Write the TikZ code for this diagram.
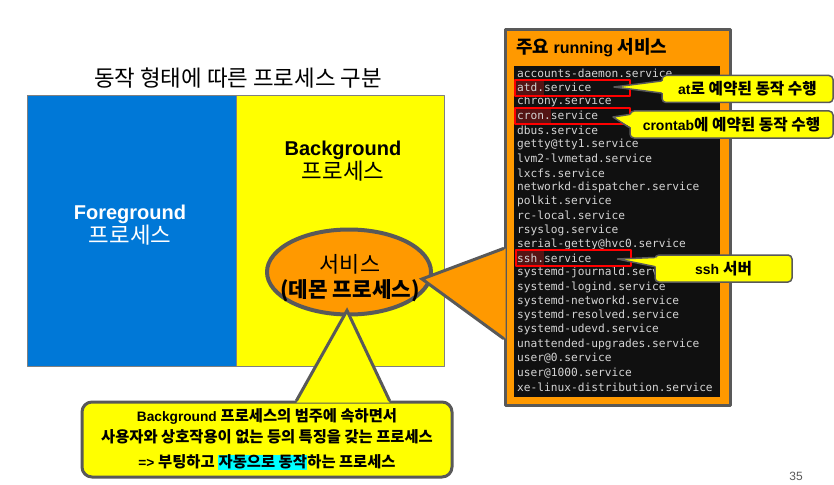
\documentclass[tikz,border=0pt]{standalone}
\usepackage{fontspec}
\setmainfont{Liberation Sans}
\newfontfamily\kr[Scale=1.12]{Noto Sans CJK KR}
\newfontfamily\term{DejaVu Sans Mono}
\usetikzlibrary{calc,positioning,shapes.geometric}

\definecolor{fgblue}{RGB}{0,120,215}
\definecolor{bgyellow}{RGB}{255,255,0}
\definecolor{panelorange}{RGB}{255,153,0}
\definecolor{edgegray}{RGB}{89,89,89}
\definecolor{termgray}{RGB}{212,212,212}
\definecolor{termblack}{RGB}{16,16,16}
\definecolor{selred}{RGB}{84,20,20}
\definecolor{marker}{RGB}{0,255,255}

\tikzset{
  termline/.style={anchor=west,inner sep=0pt,text=termgray,font=\term\fontsize{11.2}{13}\selectfont},
  selbox/.style={draw=red,line width=2pt,minimum width=115pt,minimum height=16pt,inner sep=0pt},
  selmark/.style={fill=selred},
  note/.style={fill=bgyellow,draw=edgegray,line width=1.5pt,rounded corners=4pt,inner sep=0pt,
    minimum height=27pt,font=\bfseries\fontsize{14}{17}\selectfont},
  noteedge/.style={draw=edgegray,line width=1.5pt,line join=round},
  bigedge/.style={draw=edgegray,line width=3pt,line join=miter},
}

\begin{document}
\begin{tikzpicture}[x=1pt,y=-1pt,line cap=round,line join=round]
  % white page
  \fill[white] (0,0) rectangle (834,484);
  \useasboundingbox (0,0) rectangle (834,484);

  % title
  \node (title) at (238,78) {\kr\fontsize{20}{24}\selectfont 동작 형태에 따른 프로세스 구분};

  % foreground / background areas
  \draw[draw=gray,fill=fgblue] (27,95) rectangle (236,366);
  \draw[draw=gray,fill=bgyellow] (236,95) rectangle (444,366);
  \node[align=center,text=white,font=\fontsize{20}{24}\selectfont] (fg) at (130,225)
    {\bfseries Foreground\\\kr 프로세스};
  \node[align=center,font=\fontsize{20}{24}\selectfont] (bg) at (343,161)
    {\bfseries Background\\\kr 프로세스};

  % service ellipse
  \node[ellipse,draw=edgegray,line width=4pt,fill=panelorange,minimum width=164pt,
    minimum height=85pt,inner sep=0pt] (daemon) at (349,272) {};
  \node[font=\kr\fontsize{19.5}{24}\selectfont] (svcname) at (350,264) {서비스};
  \node[font=\kr\bfseries\fontsize{19}{22}\selectfont] (svcsub) at (350,291) {(데몬 프로세스)};
  \coordinate (daemontip) at ($(daemon.south)+(-2,-6)$);
  \coordinate (paneltip) at ($(daemon.east)+(-11,7)$);

  % bottom note
  \node[fill=bgyellow,draw=edgegray,line width=3pt,rounded corners=10pt,minimum width=370pt,
    minimum height=75pt,inner sep=0pt,align=center,font=\bfseries\fontsize{13.7}{21}\selectfont]
    (bgnote) at (267,439.5)
    {Background {\kr 프로세스의 범주에 속하면서}\\
     {\kr 사용자와 상호작용이 없는 등의 특징을 갖는 프로세스}\\[4pt]
     =>{} {\kr 부팅하고 \setlength{\fboxsep}{0.5pt}\colorbox{marker}{자동으로 동작}하는 프로세스}};
  \fill[bgyellow] ($(bgnote.north west)+(216,2)$) -- (daemontip) -- ($(bgnote.north west)+(309,2)$) -- cycle;
  \draw[bigedge] ($(bgnote.north west)+(216,0)$) -- (daemontip) -- ($(bgnote.north west)+(309,0)$);

  % running services panel
  \node[fill=panelorange,draw=edgegray,line width=3pt,minimum width=225pt,minimum height=375pt,
    inner sep=0pt] (panel) at (617.5,217.5) {};
  \fill[panelorange] ($(panel.north west)+(2,220)$) -- (paneltip) -- ($(panel.north west)+(2,310)$) -- cycle;
  \draw[bigedge] ($(panel.north west)+(0,220)$) -- (paneltip) -- ($(panel.north west)+(0,310)$);
  \node[anchor=west,inner sep=0pt,font=\bfseries\fontsize{16}{19}\selectfont] (paneltitle) at (516,48)
    {{\kr 주요} running {\kr 서비스}};
  \fill[termblack] (514,66) rectangle (720,397);

  % selected parts
  \fill[selmark] (516,80) rectangle (544,95);
  \fill[selmark] (516,108) rectangle (551,123);
  \fill[selmark] (516,251) rectangle (544,266);

  \foreach \svc [count=\i from 0] in {accounts-daemon,atd,chrony,cron,dbus,getty@tty1,
      lvm2-lvmetad,lxcfs,networkd-dispatcher,polkit,rc-local,rsyslog,serial-getty@hvc0,ssh,
      systemd-journald,systemd-logind,systemd-networkd,systemd-resolved,systemd-udevd,
      unattended-upgrades,user@0,user@1000,xe-linux-distribution}
    \node[termline] (svc-\i) at (517,{73+14.27*\i}) {\svc.service};

  \node[selbox] (atdsel) at (572.5,88) {};
  \node[selbox] (cronsel) at (572.5,116) {};
  \node[selbox] (sshsel) at (573,258) {};

  % notes on the right
  \node[note,minimum width=171pt] (atnote) at (747.5,89) {at{\kr 로 예약된 동작 수행}};
  \fill[bgyellow] ($(atnote.west)+(2,-8)$) -- ($(atdsel.east)+(-17,-1)$) -- ($(atnote.west)+(2,4)$) -- cycle;
  \draw[noteedge] ($(atnote.west)+(0,-8)$) -- ($(atdsel.east)+(-17,-1)$) -- ($(atnote.west)+(0,4)$);

  \node[note,minimum width=203pt] (cronnote) at (731.5,124.5) {crontab{\kr 에 예약된 동작 수행}};
  \fill[bgyellow] ($(cronnote.west)+(2,-10)$) -- ($(cronsel.east)+(-18,1)$) -- ($(cronnote.west)+(2,3)$) -- cycle;
  \draw[noteedge] ($(cronnote.west)+(0,-10)$) -- ($(cronsel.east)+(-18,1)$) -- ($(cronnote.west)+(0,3)$);

  \node[note,minimum width=137pt] (sshnote) at (723.5,268.5) {ssh {\kr 서버}};
  \fill[bgyellow] ($(sshnote.west)+(2,-11)$) -- ($(sshsel.east)+(-14,1)$) -- ($(sshnote.west)+(2,-2)$) -- cycle;
  \draw[noteedge] ($(sshnote.west)+(0,-11)$) -- ($(sshsel.east)+(-14,1)$) -- ($(sshnote.west)+(0,-2)$);

  % page number
  \node[text=edgegray,font=\fontsize{12}{14}\selectfont] (pageno) at (796,476) {35};
\end{tikzpicture}
\end{document}
